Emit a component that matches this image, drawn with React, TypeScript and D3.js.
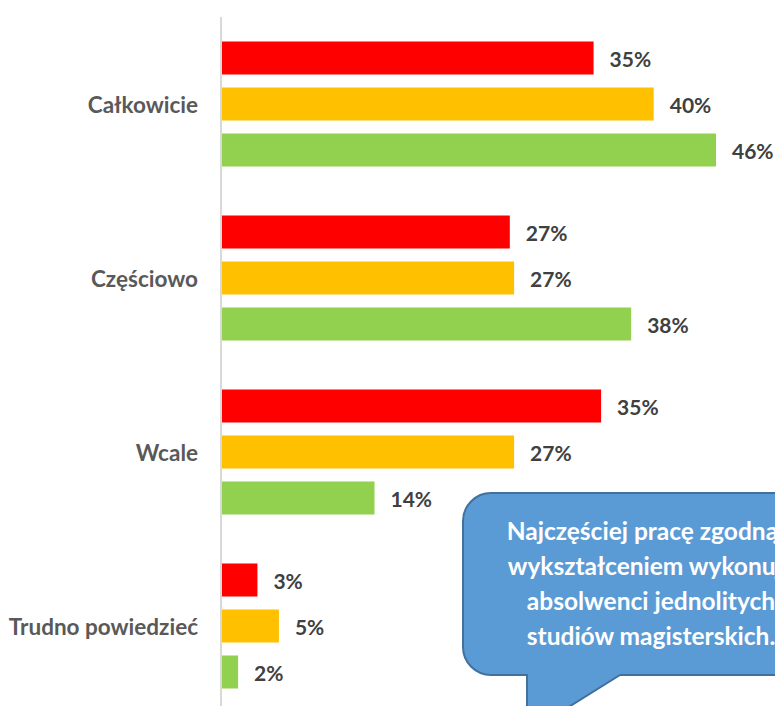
import { useEffect, useRef } from 'react';
import * as d3 from 'd3';

const categories = ['Całkowicie', 'Częściowo', 'Wcale', 'Trudno powiedzieć'];
const seriesNames = ['s1', 's2', 's3'];
const seriesColors = ['#FF0000', '#FFC000', '#92D050'];
// values per category, one per series (percent)
const valuesS1 = [34.6, 26.8, 35.3, 3.3];
const valuesS2 = [40.2, 27.2, 27.2, 5.3];
const valuesS3 = [46.0, 38.1, 14.2, 1.5];
const calloutLines = [
  'Najczęściej pracę zgodną z',
  'wykształceniem wykonują',
  'absolwenci jednolitych',
  'studiów magisterskich.',
];

const FONT = 'Lato, "Open Sans", sans-serif';

export default function App() {
  const svgRef = useRef<SVGSVGElement>(null);

  useEffect(() => {
    if (!svgRef.current) return;
    const width = 775;
    const height = 706;
    const svg = d3.select(svgRef.current);
    svg.selectAll('*').remove();
    svg.attr('width', width).attr('height', height);

    const axisX = 221;
    const top = 17;
    const catStep = 174;

    const y0 = d3.scaleBand()
      .domain(categories)
      .range([top, top + catStep * categories.length])
      .paddingInner(0)
      .paddingOuter(0);

    const y1 = d3.scaleBand()
      .domain(seriesNames)
      .range([24.5, catStep - 24.5])
      .paddingInner(13 / 46);

    const x = d3.scaleLinear()
      .domain([0, 46])
      .range([axisX + 1, 716]);

    const all = [valuesS1, valuesS2, valuesS3];

    // bars + labels
    categories.forEach((cat, ci) => {
      const g = svg.append('g').attr('transform', `translate(0,${y0(cat)})`);
      seriesNames.forEach((s, si) => {
        const v = all[si][ci];
        g.append('rect')
          .attr('x', x(0))
          .attr('y', y1(s)!)
          .attr('width', x(v) - x(0))
          .attr('height', y1.bandwidth())
          .style('fill', seriesColors[si]);
        g.append('text')
          .attr('x', x(v) + 16)
          .attr('y', y1(s)! + y1.bandwidth() / 2)
          .attr('dominant-baseline', 'central')
          .style('font-family', FONT)
          .style('font-weight', 'bold')
          .style('font-size', '21px')
          .style('fill', '#404040')
          .text(`${Math.round(v)}%`);
      });
      svg.append('text')
        .attr('x', axisX - 23)
        .attr('y', y0(cat)! + catStep / 2)
        .attr('text-anchor', 'end')
        .attr('dominant-baseline', 'central')
        .style('font-family', FONT)
        .style('font-weight', 'bold')
        .style('font-size', '22.5px')
        .style('fill', '#595959')
        .text(cat);
    });

    // axis line
    svg.append('line')
      .attr('x1', axisX)
      .attr('x2', axisX)
      .attr('y1', top)
      .attr('y2', height)
      .style('stroke', '#D9D9D9')
      .style('stroke-width', 2);

    // callout bubble
    const bx = 463, by = 493, bw = 360, bh = 182, r = 28;
    const path = d3.path();
    path.moveTo(bx + r, by);
    path.lineTo(bx + bw, by);
    path.lineTo(bx + bw, by + bh);
    path.lineTo(620, by + bh);
    path.lineTo(527, by + bh + 58);
    path.lineTo(527, by + bh);
    path.lineTo(bx + r, by + bh);
    path.arcTo(bx, by + bh, bx, by + bh - r, r);
    path.lineTo(bx, by + r);
    path.arcTo(bx, by, bx + r, by, r);
    path.closePath();
    svg.append('path')
      .attr('d', path.toString())
      .style('fill', '#5B9BD5')
      .style('stroke', '#41719C')
      .style('stroke-width', 2);

    calloutLines.forEach((line, i) => {
      svg.append('text')
        .attr('x', 651)
        .attr('y', 540 + i * 35)
        .attr('text-anchor', 'middle')
        .style('font-family', FONT)
        .style('font-weight', 'bold')
        .style('font-size', '24.5px')
        .style('fill', '#FFFFFF')
        .text(line);
    });
  }, []);

  return (
    <div style={{ position: 'absolute', left: 0, top: 0, width: 775, height: 706, overflow: 'hidden', background: '#fff' }}>
      <svg ref={svgRef} style={{ display: 'block' }} />
    </div>
  );
}
